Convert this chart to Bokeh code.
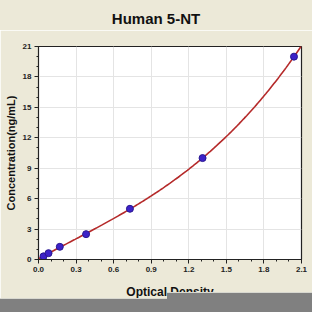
import numpy as np
from bokeh.plotting import figure
from bokeh.layouts import column
from bokeh.models import Range1d, FixedTicker, Div
from bokeh.embed import file_html
from bokeh.resources import INLINE

title_text = "Human 5-NT"
x_label = "Optical Density"
y_label = "Concentration(ng/mL)"
od = [0.04, 0.08, 0.17, 0.38, 0.73, 1.31, 2.04]
conc = [0.31, 0.625, 1.25, 2.5, 5.0, 10.0, 20.0]
x_ticks = [0.0, 0.3, 0.6, 0.9, 1.2, 1.5, 1.8, 2.1]
y_ticks = [0, 3, 6, 9, 12, 15, 18, 21]

NARROW = "'Liberation Sans Narrow', 'Arial Narrow', 'Liberation Sans', sans-serif"
BG = "#ECE9D8"

title = Div(width=312, height=30, margin=0,
            text=f'<div style="width:312px;height:30px;overflow:hidden;background:{BG};'
                 f'text-align:center;font-family:{NARROW};font-weight:bold;font-size:15px;'
                 f'line-height:37px;color:#111111;">{title_text}</div>')

p = figure(width=312, height=282, output_backend="svg", toolbar_location=None,
           x_range=Range1d(0, 2.1), y_range=Range1d(0, 21),
           min_border_left=38, min_border_right=11, min_border_top=16, min_border_bottom=53)
p.background_fill_color = "white"
p.border_fill_color = BG
p.outline_line_color = "#222222"
p.outline_line_width = 1.2

# fitted curve through the standards
coef = np.polyfit(od, conc, 3)
xs = np.linspace(0, 2.15, 200)
p.line(xs, np.polyval(coef, xs), line_color="#B52A2A", line_width=1.6)
p.scatter(od, conc, size=7, fill_color="#3D22C8", line_color="#2A1890")

for ax in (p.xaxis[0], p.yaxis[0]):
    ax.axis_line_color = "#222222"
    ax.major_tick_line_color = "#222222"
    ax.minor_tick_line_color = "#222222"
    ax.major_tick_out = 4
    ax.major_tick_in = 0
    ax.minor_tick_out = 2
    ax.minor_tick_in = 0
    ax.major_label_standoff = 3
    ax.major_label_text_font = NARROW
    ax.major_label_text_font_size = "8px"
    ax.major_label_text_font_style = "bold"
    ax.major_label_text_color = "#222222"
    ax.axis_label_text_font_style = "bold"
    ax.axis_label_text_color = "#111111"

p.xaxis.ticker = FixedTicker(ticks=x_ticks, minor_ticks=list(np.round(np.arange(0, 2.11, 0.1), 2)))
p.yaxis.ticker = FixedTicker(ticks=y_ticks, minor_ticks=list(range(0, 22)))
p.xaxis.major_label_overrides = {t: f"{t:.1f}" for t in x_ticks}
p.xaxis.axis_label = x_label
p.xaxis.axis_label_text_font = NARROW
p.xaxis.axis_label_text_font_size = "12px"
p.xaxis.axis_label_standoff = 10
p.yaxis.axis_label = y_label
p.yaxis.axis_label_text_font = "Liberation Sans"
p.yaxis.axis_label_text_font_size = "11px"
p.yaxis.axis_label_standoff = 3

p.grid.grid_line_color = "#E4E4E4"
p.grid.grid_line_width = 1

band = Div(width=312, height=0, margin=0,
           text='<div style="position:fixed;left:0;top:298px;width:167px;height:14px;'
                'background:#808080;border-top:1px solid #D8D8D0;"></div>'
                '<div style="position:fixed;left:167px;top:292px;width:145px;height:20px;'
                'background:#808080;border-top:1px solid #D8D8D0;"></div>')

layout = column(title, p, band, spacing=0)
open("out.html", "w").write(file_html(layout, INLINE))
